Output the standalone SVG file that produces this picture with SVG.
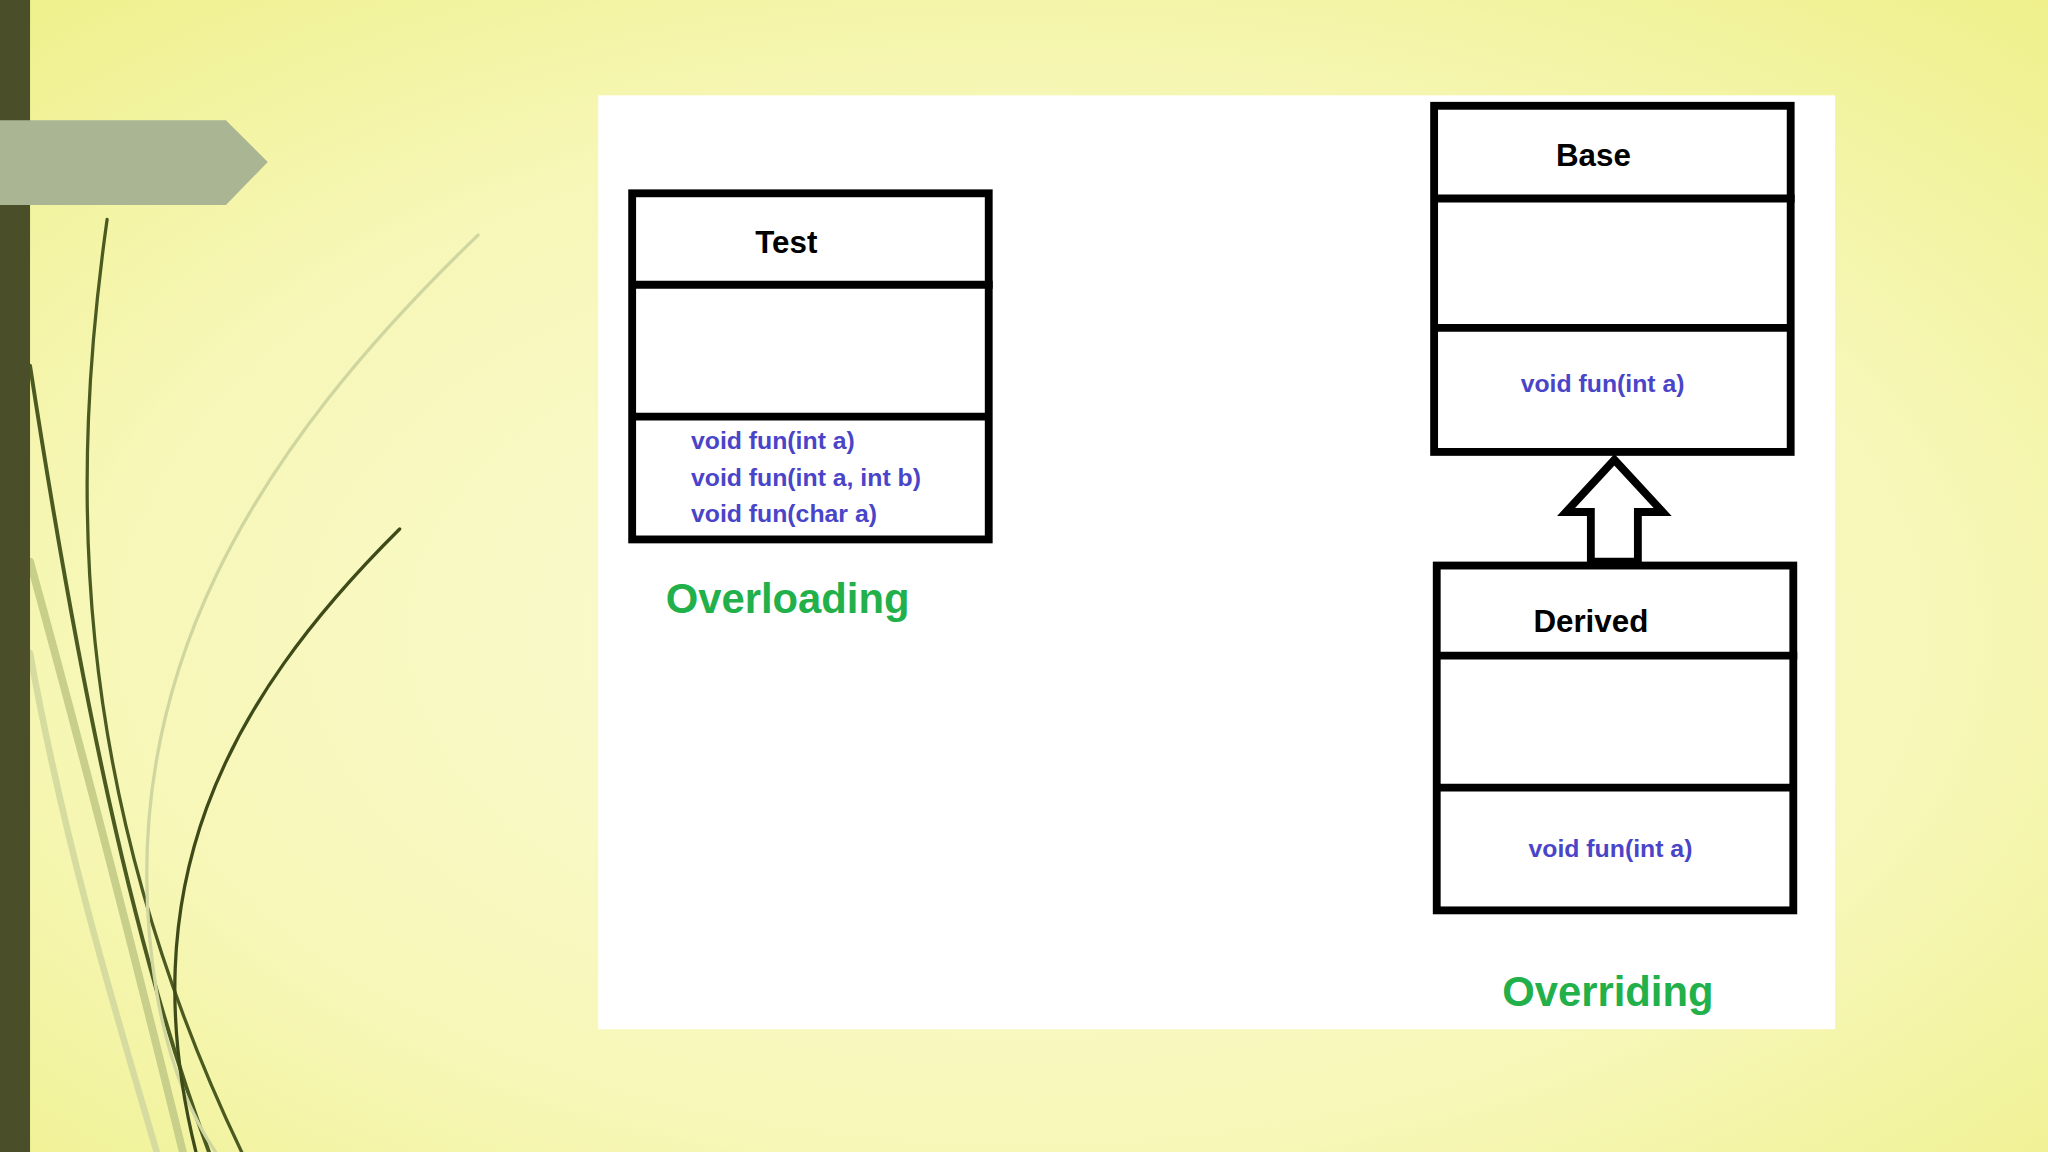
<svg xmlns="http://www.w3.org/2000/svg" width="2048" height="1152" viewBox="0 0 2048 1152">
<defs>
<radialGradient id="bg" cx="0.5" cy="0.55" r="0.75">
<stop offset="0" stop-color="#fbfbd6"/>
<stop offset="0.6" stop-color="#f7f7b8"/>
<stop offset="1" stop-color="#eef08a"/>
</radialGradient>
<style>
.box{fill:#fff;stroke:#000;stroke-width:6}
.div{stroke:#000;stroke-width:6}
.title{font-family:"Liberation Sans",sans-serif;font-weight:bold;font-size:24px;fill:#000;text-anchor:middle}
.m{font-family:"Liberation Sans",sans-serif;font-weight:bold;font-size:19px;fill:#4a45c8}
.lbl{font-family:"Liberation Sans",sans-serif;font-weight:bold;font-size:32px;fill:#22b04a;text-anchor:middle}
.g{fill:none;stroke-linecap:round}
</style>
</defs>
<g transform="scale(1.30612)">
<rect width="1568" height="882" fill="url(#bg)"/>
<g class="g">
<path d="M82,168 C55,360 50,600 185,882" stroke="#4a5a20" stroke-width="2.5"/>
<path d="M23,280 C60,520 100,720 160,882" stroke="#4a5a20" stroke-width="3"/>
<path d="M23,430 C70,600 110,760 140,882" stroke="#c8cf8a" stroke-width="6"/>
<path d="M23,500 C50,650 90,780 120,882" stroke="#d6dca0" stroke-width="5"/>
<path d="M366,180 C200,340 80,520 120,760 C130,820 150,860 165,882" stroke="#d0d6a0" stroke-width="2.5"/>
<path d="M306,405 C170,540 100,680 150,882" stroke="#3e4a18" stroke-width="2.5"/>
</g>
<rect x="0" y="0" width="23" height="882" fill="#4b4f29"/>
<polygon points="0,92 173,92 205,124 173,157 0,157" fill="#a9b593"/>
<rect x="458" y="73" width="947" height="715" fill="#fff"/>
<g id="test">
<rect class="box" x="484" y="148" width="273" height="265"/>
<line class="div" x1="484" y1="218" x2="760" y2="218"/>
<line class="div" x1="484" y1="319" x2="757" y2="319"/>
<text class="title" x="602" y="194">Test</text>
<text class="m" x="529" y="344">void fun(int a)</text>
<text class="m" x="529" y="372">void fun(int a, int b)</text>
<text class="m" x="529" y="400">void fun(char a)</text>
</g>
<text class="lbl" x="603" y="469">Overloading</text>
<g id="base">
<rect class="box" x="1098" y="81" width="273" height="265"/>
<line class="div" x1="1098" y1="152" x2="1374" y2="152"/>
<line class="div" x1="1098" y1="251" x2="1371" y2="251"/>
<text class="title" x="1220" y="127">Base</text>
<text class="m" x="1227" y="300" text-anchor="middle">void fun(int a)</text>
</g>
<g id="derived">
<rect class="box" x="1100" y="433" width="273" height="264"/>
<line class="div" x1="1100" y1="502" x2="1376" y2="502"/>
<line class="div" x1="1100" y1="603" x2="1373" y2="603"/>
<text class="title" x="1218" y="484">Derived</text>
<text class="m" x="1233" y="656" text-anchor="middle">void fun(int a)</text>
</g>
<g id="connectors">
<polygon points="1236,352 1273,392 1254,392 1254,430 1218,430 1218,392 1199,392" fill="#fff" stroke="#000" stroke-width="6" stroke-linejoin="miter"/>
</g>
<text class="lbl" x="1231" y="770">Overriding</text>
</g>
</svg>
